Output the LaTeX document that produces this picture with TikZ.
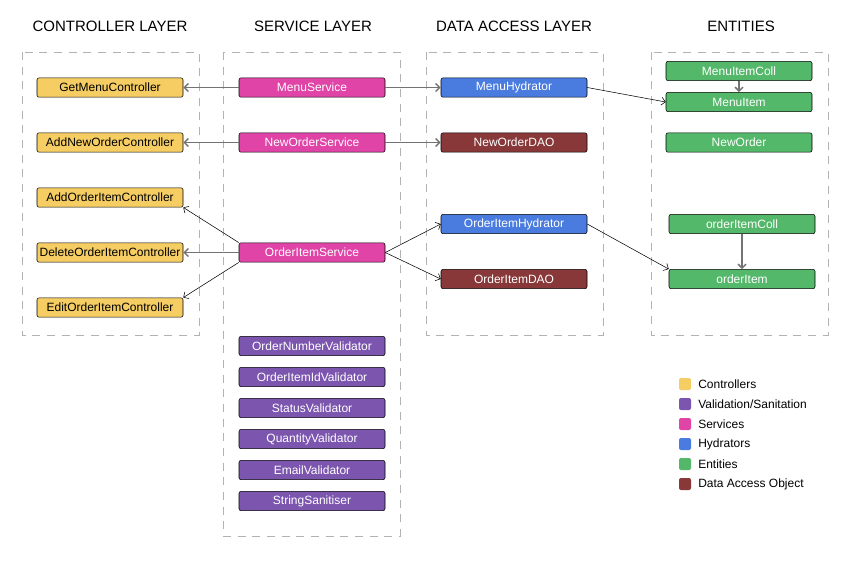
\documentclass[tikz,border=0pt]{standalone}
\usepackage{fontspec}
\setmainfont{Liberation Sans}
\usetikzlibrary{arrows.meta}

\definecolor{ctrlcol}{HTML}{F5CD63}
\definecolor{validcol}{HTML}{7C55AF}
\definecolor{servcol}{HTML}{E044A7}
\definecolor{hydrcol}{HTML}{4A7BDF}
\definecolor{entcol}{HTML}{53B869}
\definecolor{daocol}{HTML}{883838}

\begin{document}
\begin{tikzpicture}[
        x=0.75pt, y=-0.75pt,
        >={Straight Barb[length=3pt,width=6pt]},
        box/.style={
            rectangle,
            draw=black,
            rounded corners=1.5pt,
            minimum width=109.5pt,
            minimum height=14.5pt,
            inner sep=0pt,
            text=white,
            font=\fontsize{9}{10}\selectfont
        },
        ctrl/.style={box, fill=ctrlcol, text=black},
        valid/.style={box, fill=validcol},
        serv/.style={box, fill=servcol},
        hydr/.style={box, fill=hydrcol},
        ent/.style={box, fill=entcol},
        dao/.style={box, fill=daocol},
        group/.style={draw=black!30, dash pattern=on 6pt off 5pt},
        title/.style={font=\fontsize{11.25}{13}\selectfont},
        legsq/.style={rectangle, rounded corners=1.5pt, minimum size=9pt, inner sep=0pt},
        legtext/.style={anchor=west, inner sep=0pt, font=\fontsize{9}{10}\selectfont},
        arrow/.style={->, draw=black},
        grayarrow/.style={->, draw=black!55, line width=1.1pt}
    ]

    \useasboundingbox (0,0) rectangle (852,565);

    % layer frames
    \draw[group] (22,52)  rectangle (199,335);
    \draw[group] (223,52) rectangle (400,536);
    \draw[group] (426,52) rectangle (603,335);
    \draw[group] (651,52) rectangle (828,335);

    \node[title] (t1) at (110,26) {CONTROLLER LAYER};
    \node[title] (t2) at (313,26) {SERVICE LAYER};
    \node[title] (t3) at (514,26) {DATA ACCESS LAYER};
    \node[title] (t4) at (741,26) {ENTITIES};

    % controllers
    \node[ctrl] (getmenu)    at (110,87.5)  {GetMenuController};
    \node[ctrl] (addorder)   at (110,142.5) {AddNewOrderController};
    \node[ctrl] (additem)    at (110,197.5) {AddOrderItemController};
    \node[ctrl] (deleteitem) at (110,252.5) {DeleteOrderItemController};
    \node[ctrl] (edititem)   at (110,307.5) {EditOrderItemController};

    % services
    \node[serv] (menuserv)  at (312,87.5)  {MenuService};
    \node[serv] (orderserv) at (312,142.5) {NewOrderService};
    \node[serv] (itemserv)  at (312,252.5) {OrderItemService};

    \node[valid] (v1) at (312,346) {OrderNumberValidator};
    \node[valid] (v2) at (312,377) {OrderItemIdValidator};
    \node[valid] (v3) at (312,408) {StatusValidator};
    \node[valid] (v4) at (312,439) {QuantityValidator};
    \node[valid] (v5) at (312,470) {EmailValidator};
    \node[valid] (v6) at (312,501) {StringSanitiser};

    % data access
    \node[hydr] (menuhydr)  at (514,87.5)  {MenuHydrator};
    \node[dao]  (orderdao)  at (514,142.5) {NewOrderDAO};
    \node[hydr] (itemhydr)  at (514,224)   {OrderItemHydrator};
    \node[dao]  (itemdao)   at (514,279)   {OrderItemDAO};

    % entities
    \node[ent] (menucoll)  at (739,71)    {MenuItemColl};
    \node[ent] (menuitem)  at (739,102)   {MenuItem};
    \node[ent] (neworder)  at (739,142.5) {NewOrder};
    \node[ent] (itemcoll)  at (742,224)   {orderItemColl};
    \node[ent] (orderitem) at (742,279)   {orderItem};

    \draw[grayarrow] (menuserv) -- (getmenu);
    \draw[grayarrow] (orderserv) -- (addorder);
    \draw[grayarrow] (itemserv) -- (deleteitem);
    \draw[arrow] (itemserv.north west) -- (additem.south east);
    \draw[arrow] (itemserv.south west) -- (edititem.north east);

    \draw[grayarrow] (menuserv) -- (menuhydr);
    \draw[grayarrow] (orderserv) -- (orderdao);
    \draw[arrow] (itemserv.east) -- (itemhydr.west);
    \draw[arrow] (itemserv.east) -- (itemdao.west);

    \draw[arrow] (menuhydr.east) -- (menuitem.west);
    \draw[arrow] (itemhydr.east) -- (orderitem.north west);
    \draw[grayarrow] (menucoll) -- (menuitem);
    \draw[grayarrow] (itemcoll) -- (orderitem);

    % legend
    \node[legsq, fill=ctrlcol]  (l1) at (685,384) {};
    \node[legsq, fill=validcol] (l2) at (685,404) {};
    \node[legsq, fill=servcol]  (l3) at (685,424) {};
    \node[legsq, fill=hydrcol]  (l4) at (685,444) {};
    \node[legsq, fill=entcol]   (l5) at (685,464) {};
    \node[legsq, fill=daocol]   (l6) at (685,484) {};
    \node[legtext] (l1t) at (698,384) {Controllers};
    \node[legtext] (l2t) at (698,404) {Validation/Sanitation};
    \node[legtext] (l3t) at (698,424) {Services};
    \node[legtext] (l4t) at (698,444) {Hydrators};
    \node[legtext] (l5t) at (698,464) {Entities};
    \node[legtext] (l6t) at (698,484) {Data Access Object};

\end{tikzpicture}
\end{document}
